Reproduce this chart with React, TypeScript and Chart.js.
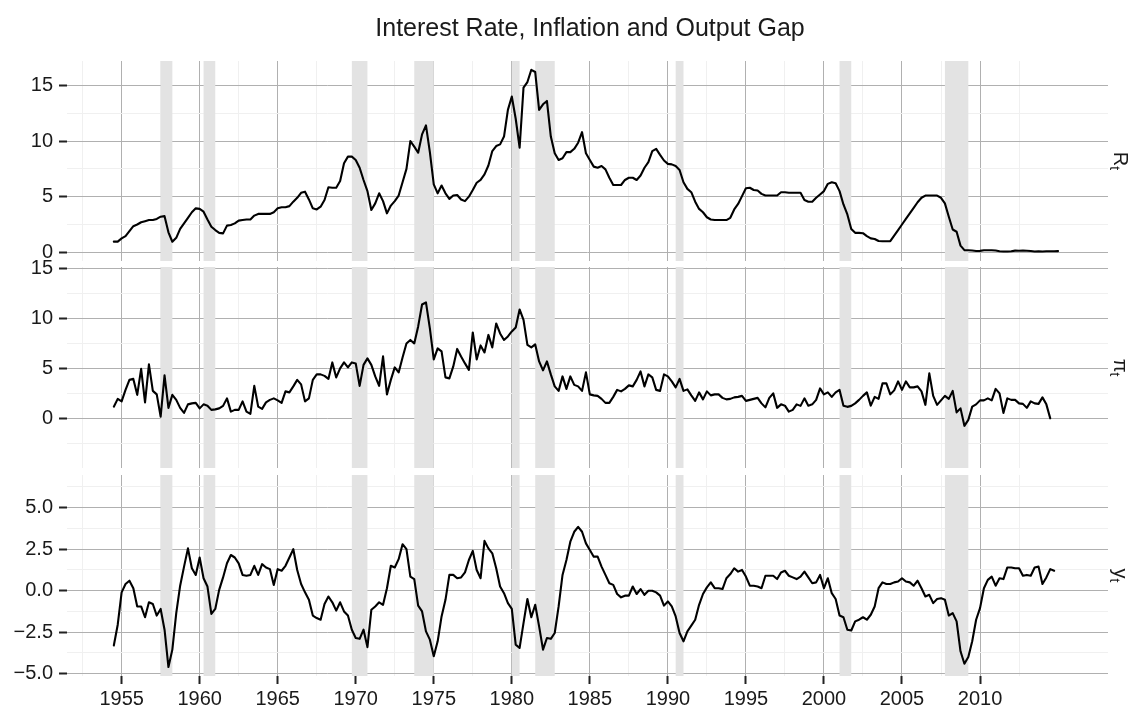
import React, { useEffect, useRef } from "react";
import { Chart, registerables } from "chart.js";

Chart.register(...registerables);

// ---------------- DATA ----------------
const titleText = "Interest Rate, Inflation and Output Gap";

// quarterly observations start at 1954Q3
const firstQuarter = 1954.5;
const quarterStep = 0.25;

// R_t : interest rate
const interestRate = [
  0.96, 0.96,
  1.25, 1.45, 1.9, 2.35,
  2.5, 2.7, 2.8, 2.9,
  2.9, 3.0, 3.2, 3.25,
  1.8, 0.95, 1.3, 2.1,
  2.6, 3.1, 3.6, 3.95,
  3.9, 3.65, 2.95, 2.3,
  2.0, 1.75, 1.7, 2.4,
  2.45, 2.6, 2.85, 2.9,
  2.95, 2.95, 3.3, 3.45,
  3.45, 3.45, 3.45, 3.6,
  3.95, 4.05, 4.05, 4.15,
  4.55, 4.9, 5.35, 5.45,
  4.75, 3.95, 3.85, 4.1,
  4.7, 5.85, 5.8, 5.8,
  6.4, 8.0, 8.6, 8.6,
  8.3, 7.6, 6.5, 5.5,
  3.8, 4.4, 5.3, 4.6,
  3.5, 4.2, 4.6, 5.1,
  6.3, 7.5, 10.0, 9.5,
  8.95, 10.6, 11.4, 9.0,
  6.1, 5.3, 6.0, 5.3,
  4.8, 5.1, 5.15, 4.75,
  4.6, 5.0, 5.6, 6.25,
  6.5, 7.0, 7.8, 9.1,
  9.55, 9.7, 10.4, 12.8,
  14.0, 12.0, 9.4, 14.8,
  15.3, 16.4, 16.2, 12.8,
  13.3, 13.6, 10.4, 8.9,
  8.3, 8.45, 9.0, 9.0,
  9.3, 9.85, 10.8, 8.9,
  8.3, 7.7, 7.6, 7.75,
  7.45, 6.7, 6.05, 6.05,
  6.05, 6.5, 6.7, 6.7,
  6.5, 6.9, 7.6, 8.1,
  9.1, 9.3, 8.75, 8.25,
  7.95, 7.9, 7.75, 7.4,
  6.3, 5.7, 5.4, 4.55,
  3.9, 3.6, 3.15, 2.95,
  2.9, 2.9, 2.9, 2.9,
  3.1, 3.85, 4.35, 5.05,
  5.75, 5.8, 5.6, 5.55,
  5.25, 5.1, 5.1, 5.1,
  5.1, 5.4, 5.4, 5.35,
  5.35, 5.35, 5.35, 4.7,
  4.55, 4.55, 4.9, 5.2,
  5.5, 6.15, 6.3, 6.2,
  5.5, 4.3, 3.4, 2.1,
  1.75, 1.75, 1.72, 1.45,
  1.25, 1.2, 1.02, 1.0,
  1.0, 1.0, 1.5, 2.0,
  2.5, 3.0, 3.5, 4.0,
  4.5, 4.9, 5.1, 5.1,
  5.1, 5.1, 4.9, 4.4,
  3.2, 2.05, 1.85, 0.6,
  0.2, 0.18, 0.16, 0.12,
  0.13, 0.19, 0.19, 0.19,
  0.16, 0.09, 0.08, 0.07,
  0.1, 0.15, 0.14, 0.16,
  0.14, 0.12, 0.08, 0.09,
  0.07, 0.09, 0.09, 0.1,
  0.11,
];

// pi_t : inflation
const inflation = [
  1.17, 1.95,
  1.7, 2.85, 3.85, 3.95,
  2.35, 4.95, 1.6, 5.4,
  2.75, 2.4, 0.17, 4.3,
  1.05, 2.35, 1.85, 1.05,
  0.55, 1.4, 1.5, 1.55,
  1.0, 1.4, 1.27, 0.85,
  0.9, 1.0, 1.25, 2.0,
  0.67, 0.85, 0.85, 1.7,
  0.67, 0.45, 3.25, 1.17,
  0.95, 1.6, 1.85, 2.0,
  1.8, 1.55, 2.7, 2.6,
  3.2, 3.85, 3.4, 1.7,
  2.0, 3.85, 4.4, 4.4,
  4.25, 3.95, 5.6, 4.1,
  5.0, 5.6, 5.1, 5.6,
  5.5, 3.25, 5.35, 6.0,
  5.35, 4.2, 3.25, 6.2,
  2.4, 3.85, 5.1, 4.6,
  6.1, 7.5, 7.85, 7.5,
  9.2, 11.4, 11.6, 9.0,
  5.9, 7.0, 6.7, 4.1,
  4.0, 5.2, 6.95, 6.2,
  5.5, 4.85, 8.6, 5.9,
  7.3, 6.6, 8.35, 7.1,
  9.5, 8.5, 7.85, 8.2,
  8.7, 9.1, 10.9, 9.85,
  7.35, 7.1, 7.4, 5.7,
  4.8, 5.7, 4.4, 3.2,
  2.75, 4.2, 2.95, 4.2,
  3.35, 3.2, 2.75, 4.6,
  2.4, 2.3, 2.25, 1.95,
  1.55, 1.55, 2.15, 2.85,
  2.7, 2.95, 3.3, 3.2,
  3.85, 4.7, 3.2, 4.4,
  4.1, 2.85, 2.75, 4.4,
  4.2, 3.7, 3.1, 3.95,
  2.75, 2.9, 2.3, 1.75,
  2.6, 1.9, 2.7, 2.3,
  2.4, 2.4, 2.05, 1.9,
  1.95, 2.1, 2.15, 2.25,
  1.75, 1.85, 1.95, 2.05,
  1.5, 1.1, 2.05, 2.5,
  1.05, 1.4, 1.27, 0.67,
  0.85, 1.4, 1.25, 2.0,
  1.27, 1.4, 1.85, 3.0,
  2.4, 2.6, 2.15, 2.6,
  2.85, 1.27, 1.15, 1.25,
  1.5, 1.85, 2.25, 2.6,
  1.27, 2.15, 1.95, 3.5,
  3.5, 2.4, 2.8, 3.7,
  2.85, 3.7, 3.1, 3.1,
  3.2, 2.7, 1.35, 4.5,
  2.25, 1.35, 1.8, 2.25,
  1.95, 2.75, 0.6, 1.0,
  -0.75, -0.15, 1.17, 1.4,
  1.8, 1.8, 2.0, 1.8,
  2.95, 2.5, 0.55, 2.0,
  1.85, 1.85, 1.5, 1.45,
  1.05, 1.7, 1.5, 1.45,
  2.1, 1.4, 0.0,
];

// y_t : output gap
const outputGap = [
  -3.3, -2.05,
  -0.1, 0.4, 0.6, 0.15,
  -0.95, -0.95, -1.6, -0.7,
  -0.8, -1.5, -1.1, -2.35,
  -4.6, -3.55, -1.35, 0.3,
  1.45, 2.55, 1.35, 0.95,
  2.0, 0.75, 0.25, -1.4,
  -1.1, 0.05, 0.8, 1.65,
  2.15, 2.0, 1.65, 0.95,
  0.9, 0.95, 1.5, 0.95,
  1.6, 1.4, 1.3, 0.35,
  1.3, 1.2, 1.5, 2.0,
  2.5, 1.25, 0.4, -0.1,
  -0.55, -1.5, -1.65, -1.75,
  -0.8, -0.35, -0.7, -1.2,
  -0.7, -1.25, -1.5, -2.35,
  -2.85, -2.9, -2.35, -3.4,
  -1.15, -0.95, -0.7, -0.85,
  0.15, 1.5, 1.4, 1.9,
  2.8, 2.5, 0.85, 0.7,
  -0.9, -1.25, -2.45, -2.95,
  -3.95, -3.05, -1.55, -0.55,
  0.95, 0.95, 0.75, 0.8,
  1.1, 1.85, 2.4, 1.25,
  0.75, 3.0, 2.55, 2.25,
  1.35, 0.25, -0.15, -0.75,
  -1.1, -3.25, -3.45, -1.95,
  -0.5, -1.6, -0.85, -2.15,
  -3.55, -2.85, -2.9, -2.55,
  -0.95, 0.95, 1.85, 2.95,
  3.55, 3.85, 3.55, 2.85,
  2.45, 2.05, 2.05, 1.45,
  0.95, 0.45, 0.35, -0.2,
  -0.4, -0.3, -0.3, 0.25,
  -0.2, 0.1, -0.25, 0.0,
  0.0, -0.1, -0.3, -0.9,
  -0.65, -0.95, -1.55, -2.55,
  -3.05, -2.45, -2.1, -1.75,
  -0.85, -0.2, 0.2, 0.5,
  0.15, 0.15, 0.1, 0.75,
  1.0, 1.35, 1.15, 1.25,
  0.85, 0.3, 0.3, 0.25,
  0.15, 0.9, 0.9, 0.9,
  0.7, 1.1, 1.2, 0.9,
  0.8, 0.7, 0.85, 1.15,
  0.8, 0.45, 0.5, 0.95,
  0.15, 0.75, -0.15, -0.5,
  -1.5, -1.6, -2.35, -2.4,
  -1.85, -1.75, -1.6, -1.75,
  -1.45, -0.95, 0.15, 0.5,
  0.4, 0.4, 0.5, 0.55,
  0.75, 0.55, 0.5, 0.3,
  0.6, 0.15, -0.35, -0.25,
  -0.75, -0.5, -0.45, -0.55,
  -1.5, -1.35, -1.85, -3.65,
  -4.4, -4.0, -3.05, -1.75,
  -1.05, 0.15, 0.65, 0.85,
  0.3, 0.75, 0.7, 1.4,
  1.4, 1.35, 1.35, 0.9,
  0.95, 0.9, 1.4, 1.45,
  0.4, 0.8, 1.3, 1.2,
];

// recession periods (start, end) in decimal years
const recessions: [number, number][] = [
  [1957.5, 1958.25],
  [1960.25, 1961.0],
  [1969.75, 1970.75],
  [1973.75, 1975.0],
  [1980.0, 1980.5],
  [1981.5, 1982.75],
  [1990.5, 1991.0],
  [2001.0, 2001.75],
  [2007.75, 2009.25],
];

// axis ticks
const xTickValues = [
  1952.5, 1955, 1957.5, 1960, 1962.5, 1965, 1967.5, 1970, 1972.5, 1975, 1977.5,
  1980, 1982.5, 1985, 1987.5, 1990, 1992.5, 1995, 1997.5, 2000, 2002.5, 2005,
  2007.5, 2010, 2012.5,
];
const xMajorValues = [1955, 1960, 1965, 1970, 1975, 1980, 1985, 1990, 1995, 2000, 2005, 2010];

const rTickValues = [0, 2.5, 5, 7.5, 10, 12.5, 15];
const rMajorValues = [0, 5, 10, 15];
const piTickValues = [-2.5, 0, 2.5, 5, 7.5, 10, 12.5, 15];
const piMajorValues = [0, 5, 10, 15];
const yTickValues = [-5, -3.75, -2.5, -1.25, 0, 1.25, 2.5, 3.75, 5, 6.25];
const yMajorValues = [-5, -2.5, 0, 2.5, 5];

// ---------------- LAYOUT / STYLE ----------------
const W = 1137;
const H = 709;
const PANEL_LEFT = 67;
const PANEL_RIGHT = 1108;
const X_MIN = 1951.5;
const X_MAX = 2018.2;
const FONT = '"Liberation Sans", Arial, Helvetica, sans-serif';
const MAJOR_GRID = "#b0b0b0";
const MINOR_GRID = "#f0f0f0";
const BAND_COLOR = "#e3e3e3";
const TEXT_COLOR = "#1a1a1a";

const has = (arr: number[], v: number) => arr.some((a) => Math.abs(a - v) < 1e-6);

type Panel = {
  values: number[];
  top: number;
  bottom: number;
  min: number;
  max: number;
  ticks: number[];
  majors: number[];
  fmt: (v: number) => string;
  strip: [string, string];
  showX: boolean;
  title: boolean;
};

const panels: Panel[] = [
  {
    values: interestRate, top: 61, bottom: 261, min: -0.78, max: 17.19,
    ticks: rTickValues, majors: rMajorValues, fmt: (v) => String(v),
    strip: ["R", "t"], showX: false, title: true,
  },
  {
    values: inflation, top: 267, bottom: 468, min: -4.97, max: 15.15,
    ticks: piTickValues, majors: piMajorValues, fmt: (v) => String(v),
    strip: ["\u03c0", "t"], showX: false, title: false,
  },
  {
    values: outputGap, top: 475, bottom: 676, min: -5.14, max: 6.97,
    ticks: yTickValues, majors: yMajorValues,
    fmt: (v) => v.toFixed(1).replace("-", "\u2212"),
    strip: ["y", "t"], showX: true, title: false,
  },
];

const bandPlugin = {
  id: "recessionBands",
  beforeDatasetsDraw(chart: any) {
    const { ctx, chartArea, scales } = chart;
    const { top, bottom, left, right } = chartArea;
    ctx.save();
    ctx.beginPath();
    ctx.rect(left, top, right - left, bottom - top);
    ctx.clip();
    ctx.fillStyle = BAND_COLOR;
    for (const [a, b] of recessions) {
      const x0 = scales.x.getPixelForValue(a);
      const x1 = scales.x.getPixelForValue(b);
      ctx.fillRect(x0, top, x1 - x0, bottom - top);
    }
    ctx.restore();
  },
};

function makeOverlayPlugin(p: Panel) {
  return {
    id: "overlayText",
    afterDraw(chart: any) {
      const { ctx, chartArea } = chart;
      ctx.save();
      ctx.fillStyle = TEXT_COLOR;
      if (p.title) {
        ctx.font = `25px ${FONT}`;
        ctx.textAlign = "center";
        ctx.textBaseline = "alphabetic";
        ctx.fillText(titleText, 590, 36);
      }
      // strip label (rotated clockwise)
      const cy = (chartArea.top + chartArea.bottom) / 2;
      ctx.translate(1121, cy);
      ctx.rotate(Math.PI / 2);
      ctx.textAlign = "left";
      ctx.textBaseline = "alphabetic";
      ctx.font = `20px ${FONT}`;
      const wMain = ctx.measureText(p.strip[0]).width;
      ctx.font = `14px ${FONT}`;
      const wSub = ctx.measureText(p.strip[1]).width;
      const start = -(wMain + wSub) / 2;
      ctx.font = `20px ${FONT}`;
      ctx.fillText(p.strip[0], start, 7);
      ctx.font = `14px ${FONT}`;
      ctx.fillText(p.strip[1], start + wMain, 11);
      ctx.restore();
    },
  };
}

function buildConfig(p: Panel): any {
  const points = p.values.map((v, i) => ({ x: firstQuarter + i * quarterStep, y: v }));
  return {
    type: "line",
    data: {
      datasets: [
        {
          data: points,
          borderColor: "#000000",
          borderWidth: 2.1,
          pointRadius: 0,
          tension: 0,
          fill: false,
          borderJoinStyle: "round",
          borderCapStyle: "round",
        },
      ],
    },
    options: {
      responsive: false,
      animation: false,
      events: [],
      layout: {
        padding: {
          left: 0,
          right: W - PANEL_RIGHT,
          top: p.top,
          bottom: p.showX ? 0 : H - p.bottom,
        },
      },
      plugins: {
        legend: { display: false },
        tooltip: { enabled: false },
        title: { display: false },
      },
      scales: {
        x: {
          type: "linear",
          position: "bottom",
          min: X_MIN,
          max: X_MAX,
          afterBuildTicks: (s: any) => {
            s.ticks = xTickValues.map((v) => ({ value: v }));
          },
          afterFit: (s: any) => {
            s.height = p.showX ? H - p.bottom : 0;
          },
          border: { display: false },
          grid: {
            color: (c: any) => (c.tick && has(xMajorValues, c.tick.value) ? MAJOR_GRID : MINOR_GRID),
            lineWidth: 1,
            drawTicks: p.showX,
            tickLength: 8,
            tickWidth: 2,
            tickColor: (c: any) =>
              c.tick && has(xMajorValues, c.tick.value) ? "#222222" : "rgba(0,0,0,0)",
          },
          ticks: {
            display: p.showX,
            autoSkip: false,
            maxRotation: 0,
            minRotation: 0,
            padding: 3,
            color: TEXT_COLOR,
            font: { family: FONT, size: 20 },
            callback: (v: number) => (has(xMajorValues, v) ? String(v) : ""),
          },
        },
        y: {
          type: "linear",
          position: "left",
          min: p.min,
          max: p.max,
          afterBuildTicks: (s: any) => {
            s.ticks = p.ticks.map((v) => ({ value: v }));
          },
          afterFit: (s: any) => {
            s.width = PANEL_LEFT;
          },
          border: { display: false },
          grid: {
            color: (c: any) => (c.tick && has(p.majors, c.tick.value) ? MAJOR_GRID : MINOR_GRID),
            lineWidth: 1,
            drawTicks: true,
            tickLength: 8,
            tickWidth: 2,
            tickColor: (c: any) =>
              c.tick && has(p.majors, c.tick.value) ? "#222222" : "rgba(0,0,0,0)",
          },
          ticks: {
            autoSkip: false,
            padding: 6,
            color: TEXT_COLOR,
            font: { family: FONT, size: 20 },
            callback: (v: number) => (has(p.majors, v) ? p.fmt(v) : ""),
          },
        },
      },
    },
    plugins: [bandPlugin, makeOverlayPlugin(p)],
  };
}

export default function App() {
  const refs = [useRef<HTMLCanvasElement>(null), useRef<HTMLCanvasElement>(null), useRef<HTMLCanvasElement>(null)];

  useEffect(() => {
    const charts: Chart[] = [];
    panels.forEach((p, i) => {
      const el = refs[i].current;
      if (el) charts.push(new Chart(el, buildConfig(p)));
    });
    return () => {
      charts.forEach((c) => c.destroy());
    };
  }, []);

  return (
    <div
      style={{
        position: "absolute",
        left: 0,
        top: 0,
        width: W,
        height: H,
        background: "#ffffff",
        overflow: "hidden",
      }}
    >
      {refs.map((r, i) => (
        <canvas
          key={i}
          ref={r}
          width={W}
          height={H}
          style={{ position: "absolute", left: 0, top: 0, width: W, height: H }}
        />
      ))}
    </div>
  );
}
